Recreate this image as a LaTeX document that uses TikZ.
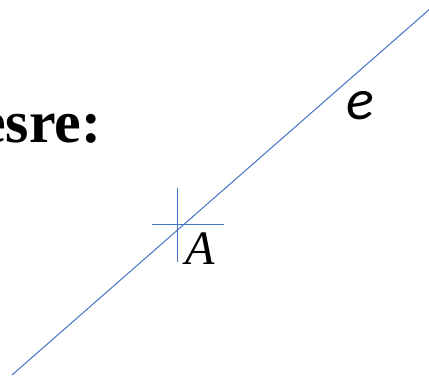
\documentclass[tikz,border=0pt]{standalone}
\usepackage{fontspec}
\setmainfont{Liberation Serif}
\newfontfamily\calib{Carlito}
\usetikzlibrary{positioning}
\definecolor{lineblue}{HTML}{4472C4}

\begin{document}
\begin{tikzpicture}[
    x=1pt, y=-1pt,
    geo/.style={draw=lineblue, line width=1pt},
    lbl/.style={anchor=base west, inner sep=0pt},
  ]
  \useasboundingbox (0,0) rectangle (429,379);
  % heading, cut at the left edge
  \node[lbl, font=\fontsize{60}{60}\selectfont\bfseries] (head) at (-21,143) {esre:};
  % the line e and the point A
  \coordinate (eS) at (12,375);
  \coordinate (eE) at (431,8);
  \coordinate (A) at (177,225);
  \draw[geo] (eS) -- (eE);
  \draw[geo] ([xshift=-25]A) -- ([xshift=47]A);
  \draw[geo] ([yshift=-37]A) -- ([yshift=37]A);
  \node[lbl, font=\fontsize{48}{48}\selectfont\itshape] (Alabel) at (185,265) {A};
  \node[lbl, font=\calib\fontsize{58}{58}\selectfont\itshape] (elabel) at (346,120) {e};
\end{tikzpicture}
\end{document}
